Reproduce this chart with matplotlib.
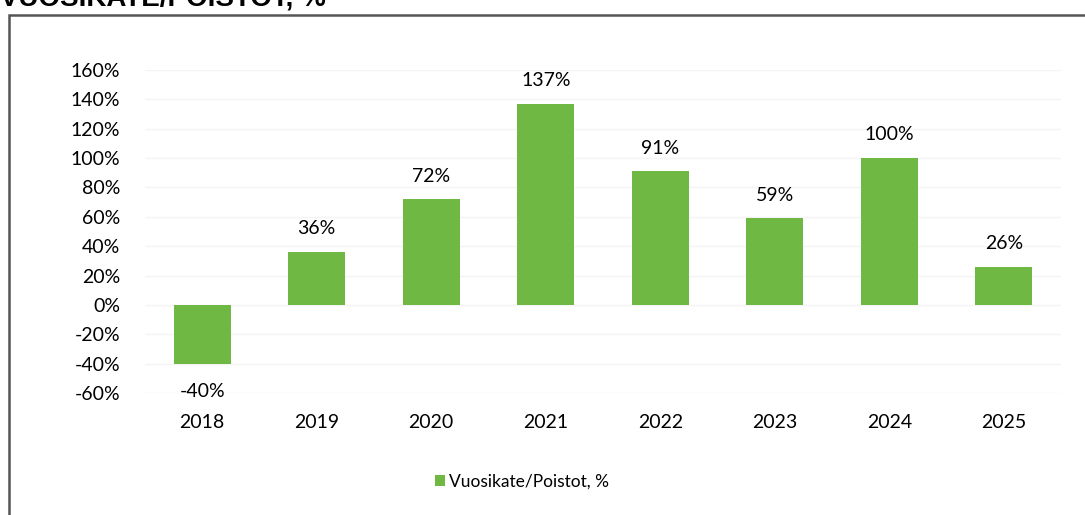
import numpy as np
import matplotlib.pyplot as plt
from matplotlib.patches import Rectangle, Patch
from matplotlib.ticker import FuncFormatter

# Data
years = ["2018", "2019", "2020", "2021", "2022", "2023", "2024", "2025"]
values = [-40, 36, 72, 137, 91, 59, 100, 26]
series_name = "Vuosikate/Poistot, %"
title = "VUOSIKATE/POISTOT, %"

bar_color = "#70b844"
plt.rcParams['font.family'] = ['Lato', 'DejaVu Sans']

fig = plt.figure(figsize=(10.85, 5.15), dpi=100)
ax = fig.add_axes([0.1336, 0.237, 0.8444, 0.627])

# Rahmen um das Diagramm (rechts und unten abgeschnitten)
fig.patches.append(Rectangle((9 / 1085, -0.1), 1.2, 1 - 15 / 515 + 0.1,
                             transform=fig.transFigure, fill=False,
                             edgecolor="#555555", linewidth=1.8))

# Titel, oben abgeschnitten wie im Original
fig.text(0.0, 1 - 6 / 515, title, fontsize=20, fontweight="bold",
         family="Liberation Sans", va="baseline", ha="left")

x = np.arange(len(years))
ax.bar(x, values, width=0.5, color=bar_color, zorder=3)

for xi, v in zip(x, values):
    if v >= 0:
        ax.text(xi, v + 10, f"{v}%", ha="center", va="bottom", fontsize=14)
    else:
        ax.text(xi, v - 13, f"{v}%", ha="center", va="top", fontsize=14)

ax.set_ylim(-60, 160)
ax.set_xlim(-0.5, len(years) - 0.5)
ax.set_yticks(np.arange(-60, 161, 20))
ax.yaxis.set_major_formatter(FuncFormatter(lambda y, _: f"{y:.0f}%"))
ax.set_xticks(x)
ax.set_xticklabels(years)
ax.tick_params(axis="both", length=0, labelsize=14)
ax.tick_params(axis="y", pad=18)
ax.tick_params(axis="x", pad=15)
ax.grid(axis="y", color="#f4f4f4", linewidth=1, zorder=0)
for s in ax.spines.values():
    s.set_visible(False)

legend_elements = [Patch(facecolor=bar_color, label=series_name)]
fig.legend(handles=legend_elements, loc="center", bbox_to_anchor=(522 / 1085, 1 - 482 / 515),
           frameon=False, fontsize=12.5, handlelength=0.6, handleheight=0.6, handletextpad=0.2)

fig.savefig("out.png", dpi=100)
